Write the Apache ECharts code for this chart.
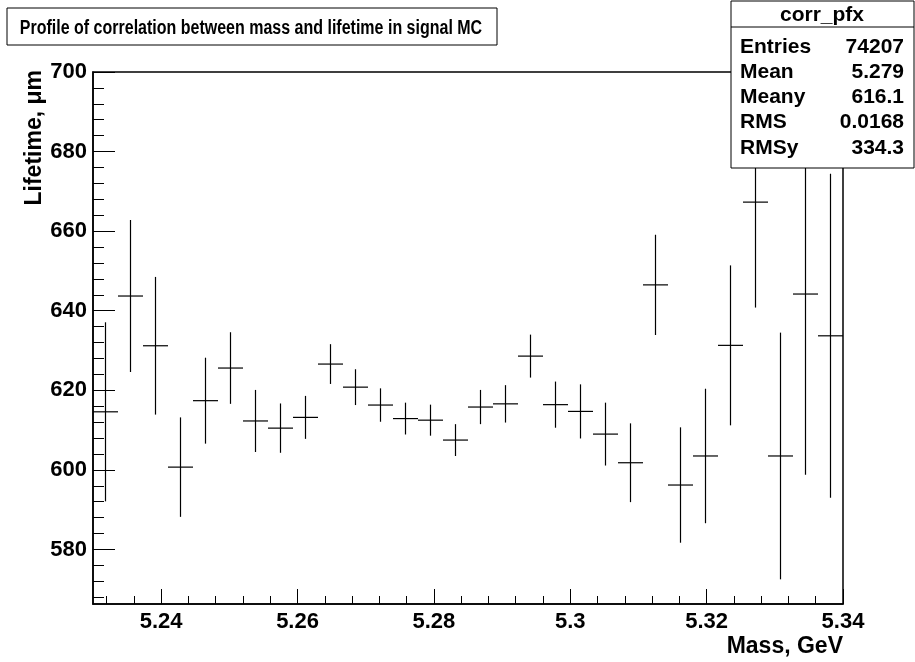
<!DOCTYPE html>
<html>
<head>
<meta charset="utf-8">
<script src="https://cdn.jsdelivr.net/npm/echarts@6/dist/echarts.min.js"></script>
<style>
  html, body { margin: 0; padding: 0; background: #fff; }
  #chart { width: 915px; height: 662px; }
</style>
</head>
<body>
<div id="chart"></div>
<script>
// Profile histogram: mean lifetime per mass bin, 30 bins over [5.23, 5.34] GeV
const massLow = 5.23;
const massHigh = 5.34;
const nBins = 30;
const lifetimeMean = [614.6, 643.7, 631.2, 600.7, 617.4, 625.6, 612.3, 610.5, 613.2, 626.6,
                      620.8, 616.3, 612.9, 612.5, 607.5, 615.8, 616.6, 628.6, 616.4, 614.7,
                      609.0, 601.8, 646.5, 596.2, 603.5, 631.3, 667.3, 603.5, 644.2, 633.7];
const lifetimeErr  = [22.5, 19.1, 17.3, 12.5, 10.8, 9.0, 7.8, 6.2, 5.4, 5.0,
                      4.5, 4.2, 4.0, 3.9, 4.0, 4.3, 4.7, 5.4, 5.8, 6.8,
                      7.9, 9.9, 12.6, 14.5, 16.9, 20.1, 26.5, 31.0, 45.4, 40.7];

// Axis ranges and ticks
const yMin = 566.3, yMax = 700;
const xMajorTicks = [5.24, 5.26, 5.28, 5.30, 5.32, 5.34];
const xMinorTicks = [5.232, 5.236, 5.244, 5.248, 5.252, 5.256, 5.264, 5.268, 5.272, 5.276,
                     5.284, 5.288, 5.292, 5.296, 5.304, 5.308, 5.312, 5.316, 5.324, 5.328,
                     5.332, 5.336];
const yMajorTicks = [580, 600, 620, 640, 660, 680, 700];
const yMinorTicks = [568, 572, 576, 584, 588, 592, 596, 604, 608, 612, 616, 624, 628, 632, 636,
                     644, 648, 652, 656, 664, 668, 672, 676, 684, 688, 692, 696];

// Statistics box
const statsName = 'corr_pfx';
const statsLabels = ['Entries', 'Mean', 'Meany', 'RMS', 'RMSy'];
const statsValues = ['74207', '5.279', '616.1', '0.0168', '334.3'];

const titleText = 'Profile of correlation between mass and lifetime in signal MC';
const xTitle = 'Mass, GeV';
const yTitle = 'Lifetime, \u03bcm';

const FONT = '"Liberation Sans", Arial, Helvetica, sans-serif';

const binWidth = (massHigh - massLow) / nBins;
const profileData = lifetimeMean.map((m, i) => [
  massLow + i * binWidth, massLow + (i + 1) * binWidth, m, lifetimeErr[i]
]);

function renderBin(params, api) {
  const x0 = api.value(0), x1 = api.value(1), y = api.value(2), e = api.value(3);
  const xc = (x0 + x1) / 2;
  const pL = api.coord([x0, y]);
  const pR = api.coord([x1, y]);
  const pT = api.coord([xc, y + e]);
  const pB = api.coord([xc, y - e]);
  const st = { stroke: '#000', lineWidth: 1.2 };
  return {
    type: 'group',
    children: [
      { type: 'line', shape: { x1: pL[0], y1: pL[1], x2: pR[0], y2: pR[1] }, style: st },
      { type: 'line', shape: { x1: pT[0], y1: pT[1], x2: pB[0], y2: pB[1] }, style: st }
    ]
  };
}

const labelStyle = { color: '#000', fontFamily: FONT, fontWeight: 'bold', fontSize: 22 };

const statsGraphics = [
  { type: 'rect', z: 100, shape: { x: 731, y: 1, width: 183, height: 167 },
    style: { fill: '#fff', stroke: '#000', lineWidth: 1 } },
  { type: 'line', z: 101, shape: { x1: 731, y1: 27, x2: 914, y2: 27 },
    style: { stroke: '#000', lineWidth: 1 } },
  { type: 'text', z: 101, x: 822, y: 15,
    style: { text: statsName, align: 'center', verticalAlign: 'middle',
             font: 'bold 21px ' + FONT, fill: '#000' } }
];
statsLabels.forEach((lab, i) => {
  const yy = 47 + i * 25.2;
  statsGraphics.push({ type: 'text', z: 101, x: 740, y: yy,
    style: { text: lab, align: 'left', verticalAlign: 'middle', font: 'bold 21px ' + FONT, fill: '#000' } });
  statsGraphics.push({ type: 'text', z: 101, x: 904, y: yy,
    style: { text: statsValues[i], align: 'right', verticalAlign: 'middle', font: 'bold 21px ' + FONT, fill: '#000' } });
});

const chart = echarts.init(document.getElementById('chart'), null, { renderer: 'canvas' });

chart.setOption({
  backgroundColor: '#fff',
  animation: false,
  grid: {
    left: 93, right: 72, top: 72, bottom: 58,
    show: true, borderColor: '#000', borderWidth: 1.5, backgroundColor: 'transparent'
  },
  xAxis: [
    {
      type: 'value', min: massLow, max: massHigh,
      axisLine: { show: true, lineStyle: { color: '#000', width: 1.5 } },
      axisTick: { show: true, inside: true, length: 15, customValues: xMajorTicks,
                  lineStyle: { color: '#000', width: 1 } },
      axisLabel: Object.assign({ customValues: xMajorTicks, margin: 7,
                  formatter: v => String(+Number(v).toFixed(2)) }, labelStyle),
      splitLine: { show: false }
    },
    {
      type: 'value', min: massLow, max: massHigh, position: 'bottom',
      axisLine: { show: false },
      axisTick: { show: true, inside: true, length: 8, customValues: xMinorTicks,
                  lineStyle: { color: '#000', width: 1 } },
      axisLabel: { show: false },
      splitLine: { show: false }
    }
  ],
  yAxis: [
    {
      type: 'value', min: yMin, max: yMax,
      axisLine: { show: true, lineStyle: { color: '#000', width: 1.5 } },
      axisTick: { show: true, inside: true, length: 22, customValues: yMajorTicks,
                  lineStyle: { color: '#000', width: 1 } },
      axisLabel: Object.assign({ customValues: yMajorTicks, margin: 6 }, labelStyle),
      splitLine: { show: false }
    },
    {
      type: 'value', min: yMin, max: yMax, position: 'left',
      axisLine: { show: false },
      axisTick: { show: true, inside: true, length: 11, customValues: yMinorTicks,
                  lineStyle: { color: '#000', width: 1 } },
      axisLabel: { show: false },
      splitLine: { show: false }
    }
  ],
  series: [{
    type: 'custom',
    xAxisIndex: 0, yAxisIndex: 0,
    clip: true,
    renderItem: renderBin,
    encode: { x: [0, 1], y: 2 },
    data: profileData
  }],
  graphic: [
    // title box
    { type: 'rect', z: 100, shape: { x: 7, y: 8, width: 490, height: 37 },
      style: { fill: '#fff', stroke: '#000', lineWidth: 1 } },
    { type: 'text', z: 101, x: 251, y: 28, scaleX: 0.8, originX: 0, originY: 0,
      style: { text: titleText, align: 'center', verticalAlign: 'middle',
               font: 'bold 20px ' + FONT, fill: '#000' } },
    // axis titles
    { type: 'text', z: 101, x: 843, y: 658,
      style: { text: xTitle, align: 'right', verticalAlign: 'bottom',
               font: 'bold 23px ' + FONT, fill: '#000' } },
    { type: 'text', z: 101, x: 46, y: 70, rotation: Math.PI / 2,
      style: { text: yTitle, align: 'right', verticalAlign: 'bottom',
               font: 'bold 23px ' + FONT, fill: '#000' } }
  ].concat(statsGraphics)
});
</script>
</body>
</html>
